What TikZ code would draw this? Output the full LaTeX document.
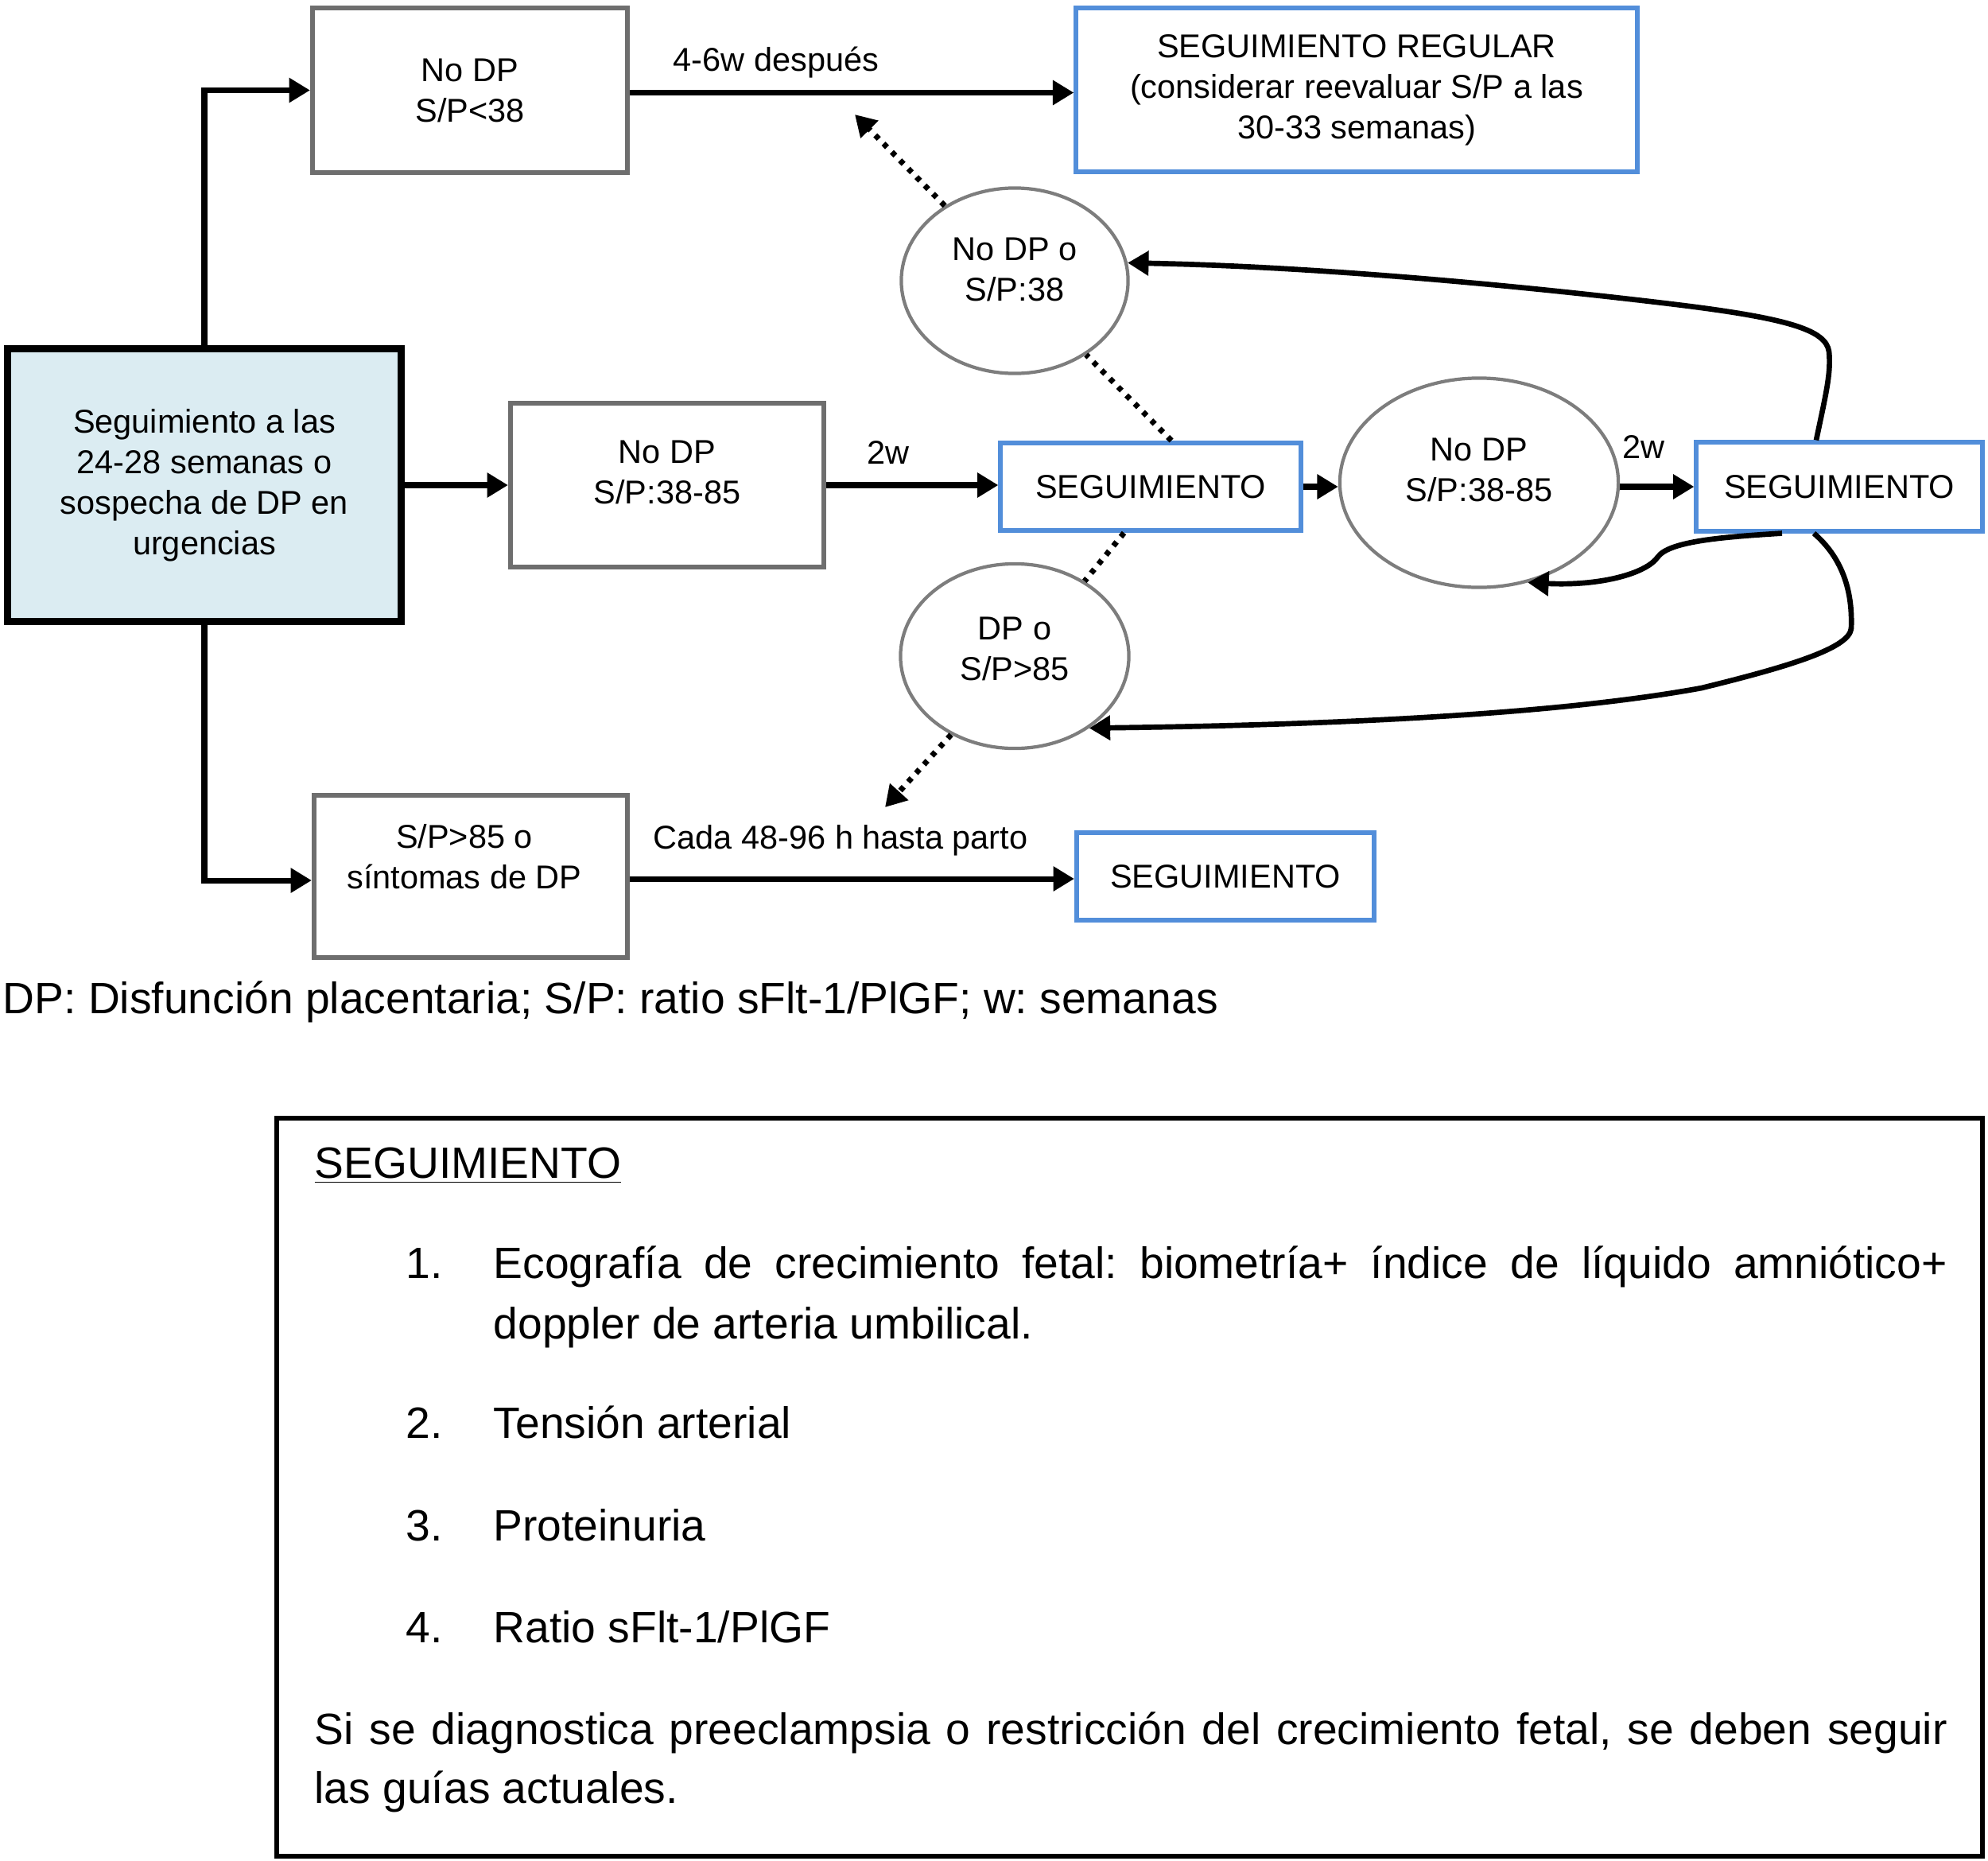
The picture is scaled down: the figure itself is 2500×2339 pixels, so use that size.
\documentclass[tikz,border=0pt]{standalone}
\usepackage{fontspec}
\setmainfont{Liberation Sans}
\usetikzlibrary{arrows.meta,shapes.geometric}
\frenchspacing
\definecolor{bxblue}{RGB}{82,142,218}
\definecolor{bxgray}{RGB}{110,110,110}
\definecolor{elgray}{RGB}{125,125,125}
\definecolor{startfill}{RGB}{219,236,242}
\tikzset{
  dfont/.style={font=\fontsize{11.8pt}{14.5pt}\selectfont},
  bfont/.style={font=\fontsize{15.7pt}{19pt}\selectfont},
  startbox/.style={dfont, draw=black, line width=2.6pt, fill=startfill, align=center, inner sep=0pt},
  graybox/.style={dfont, draw=bxgray, line width=1.7pt, fill=white, align=center, inner sep=0pt},
  bluebox/.style={dfont, draw=bxblue, line width=1.7pt, fill=white, align=center, inner sep=0pt},
  ell/.style={ellipse, draw=elgray, line width=1.2pt, inner sep=0pt},
  lbl/.style={dfont, align=center, inner sep=0pt},
  arr/.style={line width=2pt, -{Triangle[length=7.5pt,width=8.5pt]}},
  curvearr/.style={line width=1.9pt, -{Triangle[length=7.5pt,width=8.5pt]}},
  dots/.style={line width=2pt, dash pattern=on 1.8pt off 2.4pt},
  dotarr/.style={dots, -{Triangle[length=7.5pt,width=8.5pt]}},
  notebox/.style={draw=black, line width=1.7pt, inner sep=0pt},
  ntext/.style={bfont, inner sep=0pt, anchor=base west}
}
\begin{document}
\begin{tikzpicture}[x=0.01cm, y=-0.01cm]
\useasboundingbox (0,0) rectangle (2500,2339);

% main nodes
\node[startbox, minimum width=4.94cm, minimum height=3.43cm] (start) at (257,610)
  {Seguimiento a las\\24-28 semanas o\\sospecha de DP en\\urgencias};
\node[graybox, minimum width=3.96cm, minimum height=2.07cm] (nodp38) at (591,113.5) {No DP\\S/P<38};
\node[graybox, minimum width=3.94cm, minimum height=2.05cm] (nodp3885) at (839,610) {};
\node[lbl] (nodp3885t) at ([yshift=0.16cm]nodp3885.center) {No DP\\S/P:38-85};
\node[graybox, minimum width=3.94cm, minimum height=2.03cm] (sp85) at (592,1102) {};
\node[lbl] (sp85t) at ([yshift=0.25cm,xshift=-0.08cm]sp85.center) {S/P>85 o\\síntomas de DP};

\node[bluebox, minimum width=7.05cm, minimum height=2.06cm] (reg) at (1706,113)
  {SEGUIMIENTO REGULAR\\(considerar reevaluar S/P a las\\30-33 semanas)};
\node[bluebox, minimum width=3.77cm, minimum height=1.10cm] (segm) at (1447,612) {SEGUIMIENTO};
\node[bluebox, minimum width=3.59cm, minimum height=1.11cm] (segr) at (2313,612) {SEGUIMIENTO};
\node[bluebox, minimum width=3.74cm, minimum height=1.09cm] (segb) at (1541,1102) {SEGUIMIENTO};

\node[ell, minimum width=2.85cm, minimum height=2.33cm] (ellA) at (1276,353) {};
\node[lbl] (ellAt) at ([yshift=0.14cm]ellA.center) {No DP o\\S/P:38};
\node[ell, minimum width=2.87cm, minimum height=2.32cm] (ellB) at (1276,825) {};
\node[lbl] (ellBt) at ([yshift=0.09cm]ellB.center) {DP o\\S/P>85};
\node[ell, minimum width=3.50cm, minimum height=2.63cm] (ellC) at (1860,607) {};
\node[lbl] (ellCt) at ([yshift=0.16cm]ellC.center) {No DP\\S/P:38-85};

% edge labels
\node[lbl] (l46) at (976,79) {4-6w después};
\node[lbl] (l2a) at (1117,569) {2w};
\node[lbl] (l2b) at (2067,562) {2w};
\node[lbl] (lcada) at (1057,1057) {Cada 48-96 h hasta parto};

% connectors
\draw[arr] (start.north) |- (nodp38.west);
\draw[arr] (start.east) -- (nodp3885.west);
\draw[arr] (start.south) |- ([yshift=-0.05cm]sp85.west);
\draw[arr] ([yshift=-0.03cm]nodp38.east) -- ([yshift=-0.03cm]nodp38.east -| reg.west);
\draw[arr] (nodp3885.east) -- (nodp3885.east -| segm.west);
\draw[arr] (segm.east) -- (segm.east -| ellC.west);
\draw[arr] (ellC.east |- segm.east) -- (segm.east -| segr.west);
\draw[arr] ([yshift=-0.03cm]sp85.east) -- ([yshift=-0.03cm]sp85.east -| segb.west);

% dotted
\coordinate (tipA) at (1075,144);
\coordinate (tipB) at (1113,1015);
\draw[dots] ([xshift=0.26cm]segm.north) -- (ellA.-46);
\draw[dotarr] (ellA.133) -- (tipA);
\draw[dots] ([xshift=-0.335cm]segm.south) -- (ellB.47);
\draw[dotarr] (ellB.-129) -- (tipB);

% curved returns
\draw[curvearr] ([xshift=-0.29cm]segr.north) .. controls (2295,500) and (2303,470) .. (2300,442)
  .. controls (2296,415) and (2250,400) .. (2100,382)
  .. controls (1900,358) and (1650,335) .. (ellA.9);
\draw[curvearr] ([xshift=-0.72cm]segr.south) .. controls (2170,675) and (2100,680) .. (2085,700)
  .. controls (2070,722) and (2010,737) .. (ellC.-64);
\draw[curvearr] ([xshift=-0.32cm]segr.south) .. controls (2315,700) and (2330,740) .. (2328,790)
  .. controls (2326,815) and (2250,838) .. (2140,865)
  .. controls (1950,900) and (1650,912) .. (ellB.-44);

% legend
\node[bfont, inner sep=0pt, anchor=west] (legend) at (3,1260)
  {DP: Disfunción placentaria; S/P: ratio sFlt-1/PlGF; w: semanas};

% notes box
\node[notebox, minimum width=21.43cm, minimum height=9.28cm] (notes) at (1420.5,1870) {};
\node[ntext] (nh) at (395,1481) {\underline{SEGUIMIENTO}};
\node[ntext] (n1) at (510,1607) {1.};
\node[ntext] (n1a) at (620,1607) {\makebox[18.27cm][s]{Ecografía de crecimiento fetal: biometría+ índice de líquido amniótico+}};
\node[ntext] (n1b) at (620,1683) {doppler de arteria umbilical.};
\node[ntext] (n2) at (510,1808) {2.};
\node[ntext] (n2a) at (620,1808) {Tensión arterial};
\node[ntext] (n3) at (510,1937) {3.};
\node[ntext] (n3a) at (620,1937) {Proteinuria};
\node[ntext] (n4) at (510,2065) {4.};
\node[ntext] (n4a) at (620,2065) {Ratio sFlt-1/PlGF};
\node[ntext] (p1) at (395,2193) {\makebox[20.52cm][s]{Si se diagnostica preeclampsia o restricción del crecimiento fetal, se deben seguir}};
\node[ntext] (p2) at (395,2267) {las guías actuales.};
\end{tikzpicture}
\end{document}
